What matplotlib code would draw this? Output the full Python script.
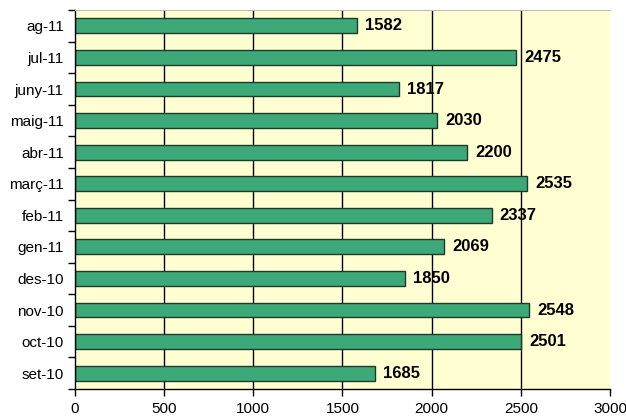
import matplotlib.pyplot as plt
import numpy as np

plt.rcParams['font.family'] = ['Liberation Sans', 'DejaVu Sans']

months = ['set-10', 'oct-10', 'nov-10', 'des-10', 'gen-11', 'feb-11',
          'març-11', 'abr-11', 'maig-11', 'juny-11', 'jul-11', 'ag-11']
values = [1685, 2501, 2548, 1850, 2069, 2337, 2535, 2200, 2030, 1817, 2475, 1582]
xticks = [0, 500, 1000, 1500, 2000, 2500, 3000]

fig = plt.figure(figsize=(6.26, 4.2), dpi=100)
ax = fig.add_axes([0.1198, 0.0738, 0.8546, 0.9022])
ax.set_facecolor('#FFFFD2')

pos = np.arange(len(months))
for g in xticks[1:-1]:
    ax.axvline(g, color='black', lw=1, zorder=1)
ax.barh(pos, values, height=0.47, color='#3DA878', edgecolor='#1E3A2C', lw=1, zorder=2)
for p, v in zip(pos, values):
    ax.text(v + 45, p, str(v), va='center', ha='left', fontsize=12, fontweight='bold', zorder=3)

ax.set_xlim(0, 3000)
ax.set_ylim(-0.5, len(months) - 0.5)
ax.set_xticks(xticks)
ax.set_xticklabels([str(x) for x in xticks], fontsize=11)
ax.set_yticks(pos)
ax.set_yticklabels(months, fontsize=11)
ax.set_yticks(np.arange(-0.5, len(months), 1), minor=True)
ax.tick_params(axis='y', which='major', length=0, pad=8)
ax.tick_params(axis='y', which='minor', length=5, width=1)
ax.tick_params(axis='x', length=5, width=1, pad=4)

ax.spines['right'].set_visible(False)
ax.spines['top'].set_color('#BBBBBB')
ax.spines['left'].set_linewidth(1)
ax.spines['bottom'].set_linewidth(1)

fig.savefig('out.png', dpi=100)
